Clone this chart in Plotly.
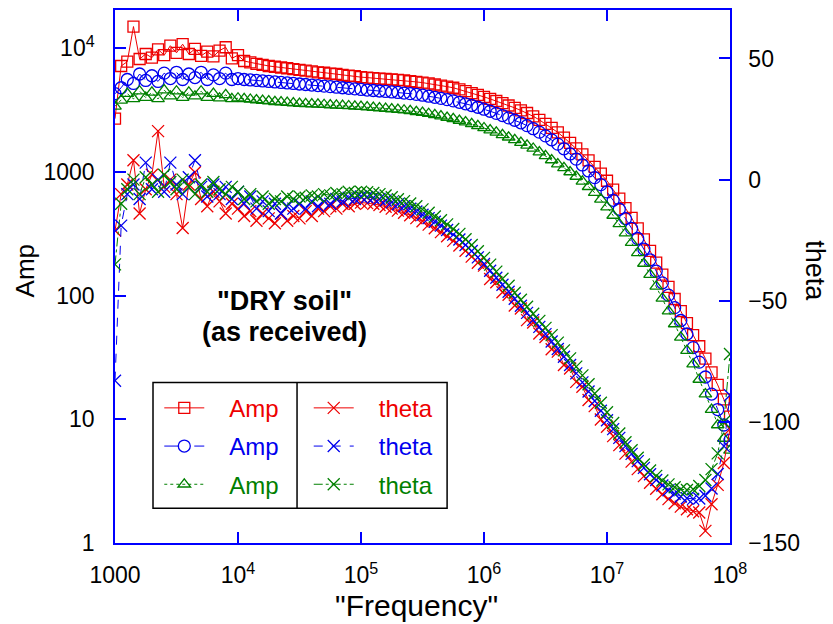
import plotly.graph_objects as go

# ---------------- data ----------------
freq = [1000, 1122, 1259, 1413, 1585, 1778, 1995, 2239, 2512, 2818,
        3162, 3548, 3981, 4467, 5012, 5623, 6310, 7079, 7943, 8913,
        10000, 11220, 12590, 14130, 15850, 17780, 19950, 22390, 25120, 28180,
        31620, 35480, 39810, 44670, 50120, 56230, 63100, 70790, 79430, 89130,
        1.0e5, 1.122e5, 1.259e5, 1.413e5, 1.585e5, 1.778e5, 1.995e5, 2.239e5, 2.512e5, 2.818e5,
        3.162e5, 3.548e5, 3.981e5, 4.467e5, 5.012e5, 5.623e5, 6.310e5, 7.079e5, 7.943e5, 8.913e5,
        1.0e6, 1.122e6, 1.259e6, 1.413e6, 1.585e6, 1.778e6, 1.995e6, 2.239e6, 2.512e6, 2.818e6,
        3.162e6, 3.548e6, 3.981e6, 4.467e6, 5.012e6, 5.623e6, 6.310e6, 7.079e6, 7.943e6, 8.913e6,
        1.0e7, 1.122e7, 1.259e7, 1.413e7, 1.585e7, 1.778e7, 1.995e7, 2.239e7, 2.512e7, 2.818e7,
        3.162e7, 3.548e7, 3.981e7, 4.467e7, 5.012e7, 5.623e7, 6.310e7, 7.079e7, 7.943e7, 8.913e7,
        1.0e8]

amp_red = [2700, 7200, 7800, 15000, 8200, 9000, 8400, 9800, 8800, 10500,
           9200, 10800, 9000, 9900, 8700, 9400, 8600, 9600, 10200, 8300,
           8800, 7900, 7700, 7500, 7350, 7200, 7100, 7000, 6900, 6800,
           6700, 6600, 6500, 6400, 6350, 6250, 6200, 6100, 6000, 5950,
           5850, 5800, 5750, 5700, 5650, 5600, 5550, 5500, 5420, 5350,
           5280, 5200, 5100, 5000, 4900, 4800, 4650, 4500, 4350, 4200,
           4050, 3900, 3750, 3600, 3450, 3300, 3150, 3000, 2820, 2640,
           2450, 2270, 2090, 1900, 1720, 1550, 1390, 1240, 1100, 970,
           850, 720, 610, 510, 425, 350, 285, 230, 185, 148,
           118, 94, 75, 60, 48, 39, 31, 24, 19, 14.5,
           10.5]

amp_blue = [4300, 4800, 5600, 5200, 6200, 5500, 6000, 5400, 6300, 5700,
            6400, 5600, 6200, 5800, 6400, 5600, 6100, 5700, 6300, 5600,
            5700, 5600, 5550, 5500, 5450, 5400, 5350, 5300, 5250, 5200,
            5150, 5100, 5050, 5000, 4950, 4900, 4850, 4800, 4750, 4700,
            4650, 4600, 4560, 4520, 4480, 4440, 4400, 4350, 4300, 4240,
            4180, 4100, 4020, 3940, 3850, 3760, 3660, 3560, 3450, 3340,
            3220, 3100, 2980, 2860, 2740, 2620, 2500, 2370, 2240, 2100,
            1960, 1820, 1680, 1540, 1400, 1270, 1140, 1020, 900, 790,
            690, 590, 500, 420, 350, 290, 238, 195, 158, 127,
            101, 80, 63, 49, 38, 29, 22, 16, 12, 9,
            6.8]

amp_green = [3400, 3800, 4300, 3900, 4500, 4000, 4400, 3900, 4600, 4100,
             4500, 4000, 4400, 4100, 4500, 4000, 4300, 3950, 4200, 3900,
             3950, 3900, 3860, 3820, 3780, 3740, 3700, 3670, 3640, 3610,
             3580, 3560, 3540, 3520, 3500, 3480, 3460, 3440, 3420, 3400,
             3380, 3350, 3320, 3290, 3260, 3230, 3200, 3160, 3120, 3070,
             3020, 2960, 2900, 2830, 2760, 2690, 2610, 2530, 2450, 2360,
             2270, 2180, 2090, 2000, 1910, 1820, 1730, 1640, 1550, 1450,
             1350, 1250, 1160, 1080, 1000, 920, 840, 760, 680, 600,
             520, 445, 380, 320, 268, 222, 182, 148, 119, 95,
             75, 59, 46, 36, 28, 21, 16, 12, 9, 7,
             5.6]

theta_red = [-21, -6, -2, 8, -14, -4, 2, 20, -3, 0,
             -6, -20, -2, 3, -8, -11, -5, -9, -14, -10,
             -12, -15, -13, -17, -14, -16, -18, -14, -17, -15,
             -16, -13, -15, -12, -13, -11, -12, -10, -11, -10,
             -9.5, -9.7, -10, -10.5, -11.2, -12, -12.8, -13.7, -14.7, -15.9,
             -17.2, -18.6, -20.1, -21.7, -23.4, -25.3, -27.2, -29.4, -31.8, -34.3,
             -35.5, -41, -42.4, -46.5, -47.5, -52, -53.2, -58, -59, -63.5,
             -65, -70, -71, -76.5, -78, -83.5, -85.5, -91, -93.5, -99,
             -102, -105.9, -109.6, -113.1, -116.4, -119.5, -122.4, -125.1, -127.6, -129.9,
             -131.9, -133.6, -135, -136.1, -136.9, -137.4, -145, -134, -126, -117,
             -103]

theta_blue = [-83, -19, -6, -2, -8, 7, -4, 0, -5, 7,
              -2, -6, 1, 8, -3, -7, -2, -6, -3, -8,
              -5, -10, -7, -12, -9, -13, -10, -14, -11, -12,
              -10, -12, -9, -11, -9, -10, -8, -9, -7.5, -8,
              -7.0, -7.2, -7.5, -8.0, -8.6, -9.4, -10.2, -11.0, -12.0, -13.2,
              -14.5, -15.9, -17.4, -19.0, -20.8, -22.7, -24.7, -27.0, -29.5, -32.1,
              -34.8, -37.6, -40.5, -43.4, -46.3, -49.2, -52.1, -55.0, -57.9, -60.8,
              -63.8, -66.8, -69.9, -73.1, -76.5, -80.0, -83.7, -87.5, -91.4, -95.4,
              -99.3, -103.0, -106.6, -110.0, -113.2, -116.2, -119.0, -121.6, -124.0, -126.3,
              -128.2, -129.7, -130.8, -131.5, -131.8, -131.6, -130.5, -127.5, -121.5, -110,
              -89]

theta_green = [-35, -10, -4, 0, -6, 1, -2, -5, 2, -1,
               -4, 0, -3, -6, -2, -5, -1, -4, -6, -3,
               -5, -8, -6, -9, -7, -10, -8, -9, -7, -8,
               -7, -7.5, -6.5, -7, -6, -6.5, -5.5, -6, -5, -5.5,
               -5, -5.2, -5.5, -6, -6.6, -7.3, -8.1, -8.9, -9.9, -11.0,
               -12.3, -13.7, -15.2, -16.8, -18.5, -20.4, -22.4, -24.6, -27.0, -29.6,
               -32.3, -35.1, -38.0, -40.9, -43.8, -46.7, -49.6, -52.5, -55.4, -58.3,
               -61.2, -64.2, -67.3, -70.5, -73.8, -77.2, -80.8, -84.5, -88.3, -92.1,
               -96, -100.5, -104.8, -108.4, -111.7, -114.8, -117.6, -120.1, -122.3, -124.2,
               -125.8, -127.0, -127.8, -128.1, -127.8, -126.5, -124, -119.5, -113, -100,
               -72]

x_tickvals = [1000, 1e4, 1e5, 1e6, 1e7, 1e8]
x_ticktext = ["1000", "10<sup>4</sup>", "10<sup>5</sup>", "10<sup>6</sup>", "10<sup>7</sup>", "10<sup>8</sup>"]
amp_tickvals = [1, 10, 100, 1000, 1e4]
amp_ticktext = ["1", "10", "100", "1000", "10<sup>4</sup>"]
theta_tickvals = [50, 0, -50, -100, -150]

# ---------------- styling ----------------
RED = "#ee0000"
BLUE = "#0000ee"
GREEN = "#008000"
AXIS = "#0000ff"
FONT = "Liberation Sans, Arial, sans-serif"
PAD = "&nbsp;&nbsp;&nbsp;"


def lbl(text, color):
    return "%s<span style='color:%s'>%s</span>" % (PAD, color, text)


fig = go.Figure()

amp_specs = [
    (amp_red, RED, "square-open", 11, "solid", 1, "a1"),
    (amp_blue, BLUE, "circle-open", 12, "longdash", 3, "a2"),
    (amp_green, GREEN, "triangle-up-open", 11, "dot", 5, "a3"),
]
for vals, col, sym, sz, dash, rank, grp in amp_specs:
    fig.add_trace(go.Scatter(
        x=freq, y=vals, mode="lines+markers", name=lbl("Amp", col),
        line=dict(color=col, width=1, dash=dash),
        marker=dict(symbol=sym, size=sz, color=col, line=dict(color=col, width=1.3)),
        legend="legend", legendgroup=grp, legendrank=rank, yaxis="y"))

theta_specs = [
    (theta_red, RED, "solid", 2, "t1"),
    (theta_blue, BLUE, "dash", 4, "t2"),
    (theta_green, GREEN, "dashdot", 6, "t3"),
]
for vals, col, dash, rank, grp in theta_specs:
    fig.add_trace(go.Scatter(
        x=freq, y=vals, mode="lines+markers", name=lbl("theta", col),
        line=dict(color=col, width=1, dash=dash),
        marker=dict(symbol="x-thin-open", size=12, color=col, line=dict(color=col, width=1.3)),
        legend="legend2", legendgroup=grp, legendrank=rank, yaxis="y2"))

tickfont = dict(family=FONT, size=23, color="black")
legfont = dict(family=FONT, size=24)

fig.update_layout(
    width=833, height=624,
    margin=dict(l=115, r=103, t=8, b=81),
    paper_bgcolor="white", plot_bgcolor="white",
    font=dict(family=FONT, color="black"),
    showlegend=True,
    xaxis=dict(type="log", range=[3, 8], tickvals=x_tickvals, ticktext=x_ticktext,
               ticks="inside", ticklen=11, tickcolor=AXIS, tickwidth=1.5,
               showline=True, linecolor=AXIS, linewidth=1.5, mirror="ticks",
               showgrid=False, zeroline=False, tickfont=tickfont, ticklabelstandoff=11),
    yaxis=dict(type="log", range=[0, 4.31], tickvals=amp_tickvals, ticktext=amp_ticktext,
               ticks="inside", ticklen=11, tickcolor=AXIS, tickwidth=1.5,
               showline=True, linecolor=AXIS, linewidth=1.5, mirror=False,
               showgrid=False, zeroline=False, tickfont=tickfont, ticklabelstandoff=14),
    yaxis2=dict(overlaying="y", side="right", range=[-150, 70], tickvals=theta_tickvals,
                ticks="inside", ticklen=11, tickcolor=AXIS, tickwidth=1.5,
                showline=True, linecolor=AXIS, linewidth=1.5,
                showgrid=False, zeroline=False, tickfont=tickfont, ticklabelstandoff=12),
    legend=dict(x=0.072, y=0.295, xanchor="left", yanchor="top",
                bgcolor="rgba(0,0,0,0)", borderwidth=0, tracegroupgap=4,
                font=legfont, itemwidth=40),
    legend2=dict(x=0.315, y=0.295, xanchor="left", yanchor="top",
                 bgcolor="rgba(0,0,0,0)", borderwidth=0, tracegroupgap=4,
                 font=legfont, itemwidth=40),
    shapes=[
        dict(type="rect", xref="paper", yref="paper", x0=0.0618, x1=0.54, y0=0.0654, y1=0.301,
             line=dict(color="black", width=1.5), fillcolor="rgba(0,0,0,0)", layer="above"),
        dict(type="line", xref="paper", yref="paper", x0=0.296, x1=0.296, y0=0.0654, y1=0.301,
             line=dict(color="black", width=1.5), layer="above"),
    ],
    annotations=[
        dict(text="<b>\"DRY soil\"</b>", xref="paper", yref="paper",
             x=0.276, y=0.454, xanchor="center", yanchor="middle", showarrow=False,
             font=dict(family=FONT, size=27, color="black")),
        dict(text="<b>(as received)</b>", xref="paper", yref="paper",
             x=0.276, y=0.396, xanchor="center", yanchor="middle", showarrow=False,
             font=dict(family=FONT, size=27, color="black")),
        dict(text="Amp", xref="paper", yref="paper", x=-0.146, y=0.51, textangle=-90,
             xanchor="center", yanchor="middle",
             showarrow=False, font=dict(family=FONT, size=26, color="black")),
        dict(text="theta", xref="paper", yref="paper", x=1.138, y=0.51, textangle=90,
             xanchor="center", yanchor="middle",
             showarrow=False, font=dict(family=FONT, size=27, color="black")),
        dict(text="\"Frequency\"", xref="paper", yref="paper", x=0.49, y=-0.118,
             xanchor="center", yanchor="middle",
             showarrow=False, font=dict(family=FONT, size=30, color="black")),
    ],
)

fig.write_html("out.html")
